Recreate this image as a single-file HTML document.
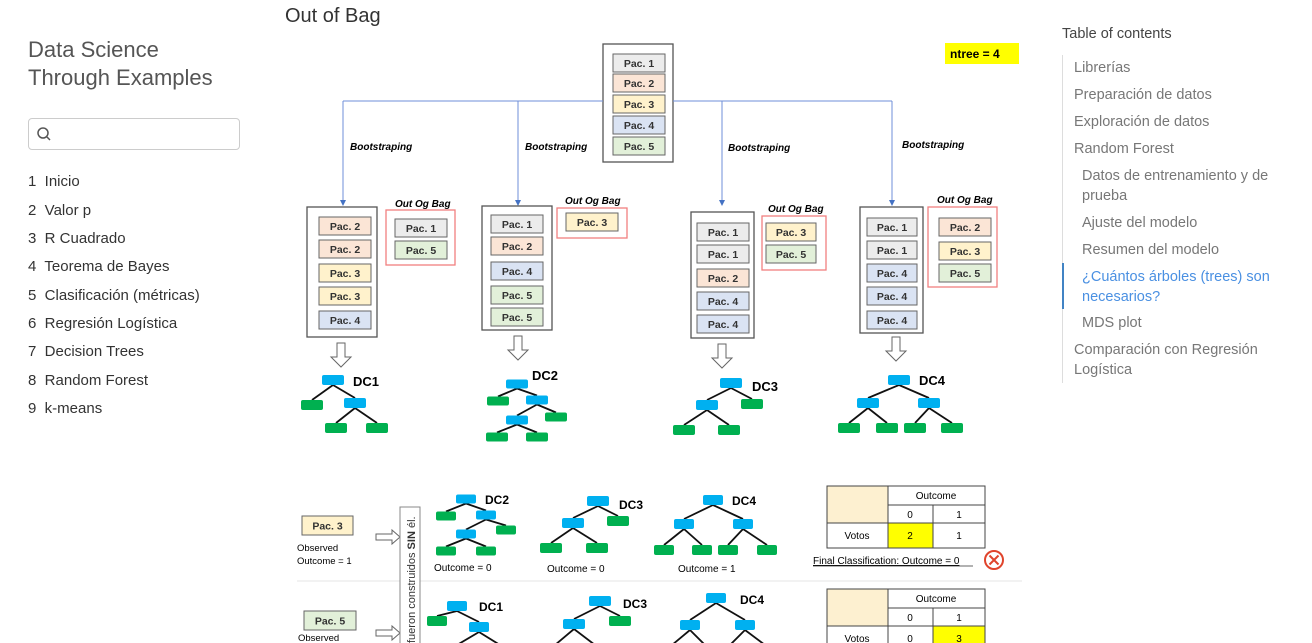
<!DOCTYPE html>
<html><head><meta charset="utf-8"><style>
body{margin:0;width:1312px;height:643px;overflow:hidden;background:#fff;font-family:"Liberation Sans",sans-serif;position:relative}
.a{position:absolute;white-space:nowrap}
.nav{color:#333;font-size:15px}
.toc{color:#777;font-size:14.5px;line-height:20px}
</style></head><body>
<div class="a" style="left:28px;top:36px;font-size:22px;color:#555;line-height:28px">Data Science<br>Through Examples</div>
<div class="a" style="left:28px;top:118px;width:210px;height:30px;border:1px solid #ccc;border-radius:4px"></div>
<svg class="a" style="left:36px;top:126px" width="16" height="16"><circle cx="7" cy="7" r="5" fill="none" stroke="#555" stroke-width="1.5"/><line x1="11" y1="11" x2="14" y2="14" stroke="#555" stroke-width="1.5"/></svg>
<div class="a nav" style="left:28px;top:173px">1&nbsp; Inicio</div>
<div class="a nav" style="left:28px;top:202px">2&nbsp; Valor p</div>
<div class="a nav" style="left:28px;top:230px">3&nbsp; R Cuadrado</div>
<div class="a nav" style="left:28px;top:258px">4&nbsp; Teorema de Bayes</div>
<div class="a nav" style="left:28px;top:287px">5&nbsp; Clasificación (métricas)</div>
<div class="a nav" style="left:28px;top:315px">6&nbsp; Regresión Logística</div>
<div class="a nav" style="left:28px;top:343px">7&nbsp; Decision Trees</div>
<div class="a nav" style="left:28px;top:372px">8&nbsp; Random Forest</div>
<div class="a nav" style="left:28px;top:400px">9&nbsp; k-means</div>

<div class="a" style="left:285px;top:5px;font-size:20px;color:#333">Out of Bag</div>

<div class="a" style="left:1062px;top:26px;font-size:14.5px;color:#444">Table of contents</div>
<div class="a" style="left:1062px;top:55px;width:1px;height:328px;background:#ddd"></div>
<div class="a" style="left:1062px;top:263px;width:2px;height:46px;background:#4183c4"></div>
<div class="a toc" style="left:1074px;top:58px">Librerías</div>
<div class="a toc" style="left:1074px;top:85px">Preparación de datos</div>
<div class="a toc" style="left:1074px;top:112px">Exploración de datos</div>
<div class="a toc" style="left:1074px;top:139px">Random Forest</div>
<div class="a toc" style="left:1082px;top:166px">Datos de entrenamiento y de<br>prueba</div>
<div class="a toc" style="left:1082px;top:213px">Ajuste del modelo</div>
<div class="a toc" style="left:1082px;top:240px">Resumen del modelo</div>
<div class="a toc" style="left:1082px;top:267px;color:#4a90e2">¿Cuántos árboles (trees) son<br>necesarios?</div>
<div class="a toc" style="left:1082px;top:313px">MDS plot</div>
<div class="a toc" style="left:1074px;top:340px">Comparación con Regresión<br>Logística</div>

<svg id="d" class="a" style="left:0;top:0" width="1312" height="643" font-family="Liberation Sans, sans-serif"></svg>
<script>
var s='';
var C={1:'#ececec',2:'#fbe5d6',3:'#fff2cc',4:'#dae3f3',5:'#e2f0d9'};
function pac(x,y,n,w,h){w=w||52;h=h||18;s+=`<rect x="${x}" y="${y}" width="${w}" height="${h}" fill="${C[n]}" stroke="#666" stroke-width="1"/><text x="${x+w/2}" y="${y+h/2+4}" font-size="10.5" font-weight="bold" fill="#333" text-anchor="middle">Pac. ${n}</text>`;}
function box(x,y,w,h,c,sw){s+=`<rect x="${x}" y="${y}" width="${w}" height="${h}" fill="#fff" stroke="${c}" stroke-width="${sw||1.3}"/>`;}
function t(x,y,str,sz,ex){s+=`<text x="${x}" y="${y}" font-size="${sz}" ${ex||''}>${str}</text>`;}
function ln(a,b,c,d,col,w){s+=`<line x1="${a}" y1="${b}" x2="${c}" y2="${d}" stroke="${col}" stroke-width="${w||1}"/>`;}
// top
box(603,44,70,118,'#555');
[1,2,3,4,5].forEach((n,i)=>pac(613,[54,74,95,116,137][i],n));
s+=`<rect x="945" y="43" width="74" height="21" fill="#ffff00"/>`;t(950,58,'ntree = 4',12,'font-weight="bold"');
ln(343,101,603,101,'#6f8fd8');ln(673,101,892,101,'#6f8fd8');
[343,518,722,892].forEach(x=>{ln(x,101,x,203,'#6f8fd8');s+=`<path d="M${x-3} ${200}L${x+3} 200L${x} 206Z" fill="#4472c4"/>`;});
[[350,150],[525,150],[728,151],[902,148]].forEach(p=>t(p[0],p[1],'Bootstraping',10,'font-style="italic" font-weight="bold"'));
// bags
box(307,207,70,130,'#555');[2,2,3,3,4].forEach((n,i)=>pac(319,[217,240,264,287,311][i],n));
box(386,210,69,55,'#f08080');[1,5].forEach((n,i)=>pac(395,[219,241][i],n));
box(482,206,70,124,'#555');[1,2,4,5,5].forEach((n,i)=>pac(491,[215,237,262,286,308][i],n));
box(557,208,70,30,'#f08080');pac(566,213,3);
box(691,212,63,126,'#555');[1,1,2,4,4].forEach((n,i)=>pac(697,[223,245,269,292,315][i],n));
box(762,216,64,54,'#f08080');[3,5].forEach((n,i)=>pac(766,[223,245][i],n,50));
box(860,207,63,126,'#555');[1,1,4,4,4].forEach((n,i)=>pac(867,[218,241,264,287,311][i],n,50));
box(928,207,69,80,'#f08080');[2,3,5].forEach((n,i)=>pac(939,[218,242,264][i],n));
[[395,207],[565,204],[768,212],[937,203]].forEach(p=>t(p[0],p[1],'Out Og Bag',10,'font-style="italic" font-weight="bold"'));
// down arrows
function da(x,y){s+=`<path d="M${x-4} ${y}h8v14h6l-10 10l-10-10h6z" fill="#fff" stroke="#666"/>`;}
da(341,343);da(518,336);da(722,344);da(896,337);
// trees
function tree(nodes,edges,w,h){edges.forEach(e=>{var a=nodes[e[0]],b=nodes[e[1]];ln(a[0],a[1]+h/2,b[0],b[1]-h/2,'#111',1.8);});
 nodes.forEach(n=>s+=`<rect x="${n[0]-w/2}" y="${n[1]-h/2}" width="${w}" height="${h}" rx="2" fill="${n[2]?'#00b050':'#00b0f0'}"/>`);}
tree([[333,380],[312,405,1],[355,403],[336,428,1],[377,428,1]],[[0,1],[0,2],[2,3],[2,4]],22,10);t(353,386,'DC1',13,'font-weight="bold"');
tree([[517,384],[498,401,1],[537,400],[556,417,1],[517,420],[497,437,1],[537,437,1]],[[0,1],[0,2],[2,3],[2,4],[4,5],[4,6]],22,9);t(532,380,'DC2',13,'font-weight="bold"');
tree([[731,383],[707,405],[752,404,1],[684,430,1],[729,430,1]],[[0,1],[0,2],[1,3],[1,4]],22,10);t(752,391,'DC3',13,'font-weight="bold"');
tree([[899,380],[868,403],[929,403],[849,428,1],[887,428,1],[915,428,1],[952,428,1]],[[0,1],[0,2],[1,3],[1,4],[2,5],[2,6]],22,10);t(919,385,'DC4',13,'font-weight="bold"');
// bottom
ln(297,581,1022,581,'#e5e5e5');
pac(302,516,3,51,19);t(297,551,'Observed',9.5);t(297,564,'Outcome = 1',9.5);
pac(304,611,5,52,19);t(298,641,'Observed',9.5);
function ra(x,y){s+=`<path d="M${x} ${y-3}h16v-4l8 7l-8 7v-4h-16z" fill="#fff" stroke="#666"/>`;}
ra(376,537);ra(376,633);
box(400,507,20,140,'#888',1);
s+=`<text transform="translate(415,643) rotate(-90)" font-size="11" fill="#333">fueron construidos <tspan font-weight="bold">SIN</tspan> él.</text>`;
tree([[466,499],[446,516,1],[486,515],[506,530,1],[466,534],[446,551,1],[486,551,1]],[[0,1],[0,2],[2,3],[2,4],[4,5],[4,6]],20,9);t(485,504,'DC2',12,'font-weight="bold"');
tree([[598,501],[573,523],[618,521,1],[551,548,1],[597,548,1]],[[0,1],[0,2],[1,3],[1,4]],22,10);t(619,509,'DC3',12,'font-weight="bold"');
tree([[713,500],[684,524],[743,524],[664,550,1],[702,550,1],[728,550,1],[767,550,1]],[[0,1],[0,2],[1,3],[1,4],[2,5],[2,6]],20,10);t(732,505,'DC4',12,'font-weight="bold"');
t(434,571,'Outcome = 0',10);t(547,572,'Outcome = 0',10);t(678,572,'Outcome = 1',10);
tree([[457,606],[437,621,1],[479,627],[457,650,1],[500,650,1]],[[0,1],[0,2],[2,3],[2,4]],20,10);t(479,611,'DC1',12,'font-weight="bold"');
tree([[600,601],[574,624],[620,621,1],[555,650,1],[595,650,1]],[[0,1],[0,2],[1,3],[1,4]],22,10);t(623,608,'DC3',12,'font-weight="bold"');
tree([[716,598],[690,625],[745,625],[672,650,1],[705,650,1],[730,650,1],[765,650,1]],[[0,1],[0,2],[1,3],[1,4],[2,5],[2,6]],20,10);t(740,604,'DC4',12,'font-weight="bold"');
function table(y,v0,v1,hi){s+=`<rect x="827" y="${y}" width="61" height="37" fill="#fdf0d0"/>`;
 s+=`<rect x="${hi?933:888}" y="${y+37}" width="${hi?52:45}" height="25" fill="#ffff00"/>`;
 s+=`<rect x="827" y="${y}" width="158" height="62" fill="none" stroke="#444"/>`;
 ln(888,y,888,y+62,'#444');ln(933,y+19,933,y+62,'#444');ln(888,y+19,985,y+19,'#444');ln(827,y+37,985,y+37,'#444');
 t(936,y+13,'Outcome',10,'text-anchor="middle"');t(910,y+32,'0',10,'text-anchor="middle"');t(959,y+32,'1',10,'text-anchor="middle"');
 t(857,y+53,'Votos',10,'text-anchor="middle"');t(910,y+53,v0,10,'text-anchor="middle"');t(959,y+53,v1,10,'text-anchor="middle"');}
table(486,'2','1',0);table(589,'0','3',1);
t(813,564,'Final Classification: Outcome = 0',10,'text-decoration="underline"');ln(813,566,973,566,'#333',0.8);
s+=`<circle cx="994" cy="560" r="9" fill="#fff" stroke="#e0442c" stroke-width="2"/><path d="M989.5 555.5l9 9M998.5 555.5l-9 9" stroke="#e0442c" stroke-width="2"/>`;
document.getElementById('d').innerHTML=s;
</script>
</body></html>
